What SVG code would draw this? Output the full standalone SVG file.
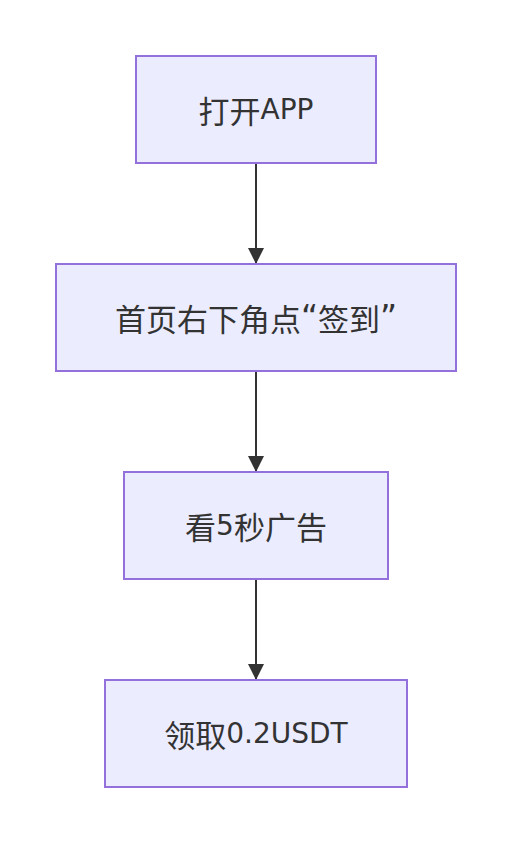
<svg xmlns="http://www.w3.org/2000/svg" width="512" height="844" viewBox="0 0 512 844">
<style>
.node rect{fill:#ECECFF;stroke:#9370DB;stroke-width:2}
.node text{font-family:"DejaVu Sans","Noto Sans CJK SC",sans-serif;font-size:28px;fill:#333;text-anchor:middle;dominant-baseline:central}
.node text .c{font-family:"Noto Sans CJK SC",sans-serif;font-size:31px}
.node text .q{font-family:"DejaVu Sans",sans-serif;font-size:33px}
.edge{stroke:#333;stroke-width:2;fill:none}
</style>
<defs>
<marker id="arrow" viewBox="0 0 16 16" refX="16" refY="8" markerWidth="16" markerHeight="16" markerUnits="userSpaceOnUse" orient="auto">
<path d="M0,0 L16,8 L0,16 z" fill="#333"/>
</marker>
</defs>
<rect width="512" height="844" fill="#fff"/>
<g id="edges">
<line class="edge" x1="256" y1="164" x2="256" y2="264" marker-end="url(#arrow)"/>
<line class="edge" x1="256" y1="372" x2="256" y2="472" marker-end="url(#arrow)"/>
<line class="edge" x1="256" y1="580" x2="256" y2="680" marker-end="url(#arrow)"/>
</g>
<g id="n1" class="node"><rect x="136" y="56" width="240" height="107"/><text x="256" y="109"><tspan class="c">打开</tspan>APP</text></g>
<g id="n2" class="node"><rect x="56" y="264" width="400" height="107"/><text x="256" y="317"><tspan class="c">首页右下角点</tspan><tspan class="q">“</tspan><tspan class="c">签到</tspan><tspan class="q">”</tspan></text></g>
<g id="n3" class="node"><rect x="124" y="472" width="264" height="107"/><text x="256" y="525"><tspan class="c">看</tspan>5<tspan class="c">秒广告</tspan></text></g>
<g id="n4" class="node"><rect x="105" y="680" width="302" height="107"/><text x="256" y="733"><tspan class="c">领取</tspan>0.2USDT</text></g>
</svg>
